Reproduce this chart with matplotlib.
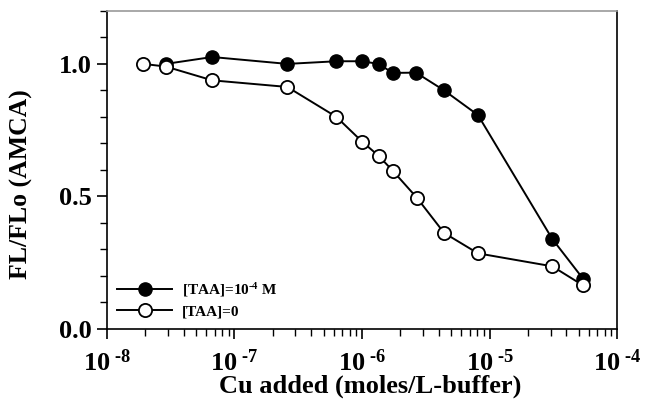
import matplotlib.pyplot as plt
from matplotlib.ticker import FixedLocator, LogLocator, FuncFormatter, NullFormatter
import numpy as np

plt.rcParams['font.family'] = ['Liberation Serif', 'DejaVu Serif']
plt.rcParams['font.weight'] = 'bold'
plt.rcParams['mathtext.fontset'] = 'custom'
plt.rcParams['mathtext.rm'] = 'Liberation Serif:bold'
plt.rcParams['mathtext.bf'] = 'Liberation Serif:bold'
plt.rcParams['mathtext.it'] = 'Liberation Serif:bold'

# Cu added (moles/L-buffer) and FL/FLo readings
cu_taa = [2.9e-8, 6.7e-8, 2.6e-7, 6.3e-7, 1.0e-6, 1.35e-6, 1.74e-6, 2.65e-6, 4.4e-6, 8.1e-6, 3.1e-5, 5.4e-5]
fl_taa = [1.00, 1.026, 1.00, 1.01, 1.01, 1.00, 0.966, 0.967, 0.90, 0.807, 0.339, 0.189]

cu_none = [1.94e-8, 2.9e-8, 6.7e-8, 2.6e-7, 6.3e-7, 1.0e-6, 1.35e-6, 1.74e-6, 2.7e-6, 4.4e-6, 8.1e-6, 3.1e-5, 5.4e-5]
fl_none = [1.00, 0.99, 0.938, 0.913, 0.80, 0.707, 0.653, 0.597, 0.494, 0.362, 0.285, 0.236, 0.164]

fig = plt.figure(figsize=(6.47, 4.04), dpi=100)
ax = fig.add_axes([0.165, 0.186, 0.789, 0.787])

ax.plot(cu_taa, fl_taa, color='black', lw=1.4, marker='o', ms=9.5,
        mfc='black', mec='black', label=r'[TAA]=10$^{\text{-4}}$ M', zorder=3)
ax.plot(cu_none, fl_none, color='black', lw=1.4, marker='o', ms=9.5,
        mfc='white', mec='black', mew=1.3, label='[TAA]=0', zorder=4)

ax.set_xscale('log')
ax.set_xlim(1e-8, 1e-4)
ax.set_ylim(0, 1.2)

ax.xaxis.set_major_locator(LogLocator(base=10, numticks=10))
ax.xaxis.set_minor_locator(LogLocator(base=10, subs=np.arange(2, 10), numticks=20))
ax.xaxis.set_minor_formatter(NullFormatter())
ax.xaxis.set_major_formatter(FuncFormatter(lambda v, p: r'10$^{\text{ -%d}}$' % abs(round(np.log10(v)))))

ax.yaxis.set_major_locator(FixedLocator([0.0, 0.5, 1.0]))
ax.yaxis.set_minor_locator(FixedLocator(np.arange(0, 1.21, 0.1)))
ax.yaxis.set_major_formatter(FuncFormatter(lambda v, p: '%.1f' % v))

ax.tick_params(which='major', direction='out', length=7, width=1.2, labelsize=19, pad=4)
ax.tick_params(axis='x', which='major', pad=8)
ax.tick_params(which='minor', direction='out', length=5, width=1.0)
for s in ax.spines.values():
    s.set_linewidth(1.2)
ax.spines['top'].set_color('#999999')

ax.set_xlabel('Cu added (moles/L-buffer)', fontsize=19, fontweight='bold')
ax.set_ylabel('FL/FLo (AMCA)', fontsize=18.5, fontweight='bold')
ax.xaxis.set_label_coords(0.516, -0.145)
ax.yaxis.set_label_coords(-0.145, 0.455)

ax.legend(loc='lower left', bbox_to_anchor=(0.0, 0.0), frameon=False, fontsize=11,
          handlelength=3.6, handletextpad=0.6, labelspacing=0.35, borderaxespad=0.3)

fig.savefig('out.png', dpi=100)
